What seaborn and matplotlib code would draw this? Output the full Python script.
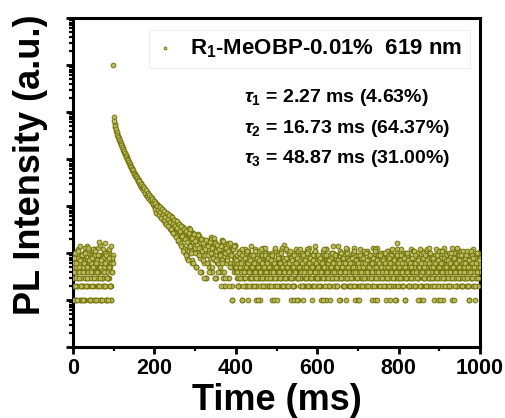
import numpy as np
import pandas as pd
import matplotlib
matplotlib.use("Agg")
import matplotlib.pyplot as plt
import seaborn as sns
from matplotlib.ticker import LogLocator, NullFormatter, MultipleLocator

# ---- data ----
STEP = 2  # ms between samples of each list; the b/c/d lists are offset sub-samples
pre_counts = [3, 7, 1, 9, 4, 2, 12, 5, 1, 8, 3, 6, 2, 10, 4, 1, 7, 14, 3, 5,
              2, 9, 1, 6, 4, 11, 3, 8, 2, 1, 5, 13, 4, 7, 1, 3, 9, 2, 6, 16,
              1, 4, 8, 3, 10, 2, 5, 1, 7]
pre_counts_b = [5, 2, 8, 1, 4, 11, 3, 6, 1, 9, 2, 4, 7, 1, 13, 3, 5, 2, 10, 6,
                1, 4, 8, 3, 2, 12, 5, 1, 7, 4, 3, 9, 2, 15, 1, 6, 3, 10, 4, 2,
                8, 1, 5, 11, 3, 6, 2, 4, 9]
pre_counts_c = [6, 1, 10, 3, 5, 2, 8, 4, 14, 2, 7, 1, 5, 9, 3, 6, 2, 11, 4, 1,
                8, 3, 6, 2, 12, 5, 1, 9, 3, 7, 2, 4, 17, 1, 6, 3, 8, 2, 5, 10,
                1, 4, 7, 3, 12, 2, 6, 1, 8]
pre_counts_d = [4, 8, 2, 6, 1, 11, 5, 3, 7, 2, 9, 4, 1, 6, 10, 2, 5, 3, 13, 7,
                1, 4, 2, 8, 5, 3, 11, 1, 6, 4, 9, 2, 5, 3, 7, 1, 12, 4, 6, 2,
                9, 3, 1, 5, 8, 2, 14, 4, 6]
peak_time = [98]
peak_counts = [100000]
decay_counts = [7700, 5650, 4750, 3950, 3560, 3100, 2850, 2500, 2320, 2040,
                1900, 1680, 1570, 1380, 1300, 1150, 1080, 960, 905, 810,
                765, 680, 650, 580, 555, 495, 478, 425, 415, 370,
                340, 350, 290, 305, 255, 270, 225, 240, 195, 215,
                175, 195, 158, 175, 140, 160, 125, 145, 112, 130,
                98, 120, 85, 108, 72, 95, 80, 62, 90, 70,
                55, 82, 64, 48, 72, 58, 40, 66, 52, 35,
                60, 45, 30, 54, 41, 28, 48, 36, 22, 44,
                33, 19, 40, 27, 15, 36, 25, 12, 31, 21,
                9, 29, 18, 34, 13, 24, 7, 27, 16, 11,
                22, 5, 19, 14, 25, 9, 17, 4, 12, 20,
                7, 15, 10, 3, 18, 13, 6, 16, 9, 22,
                4, 11, 14, 8, 17, 3, 12, 6, 15, 10,
                5, 13, 8, 19, 4, 11, 2, 14, 7, 9,
                16, 3, 12, 6, 10, 1, 13, 5, 8, 15]
decay_counts_b = [6500, 5150, 4300, 3780, 3300, 2980, 2660, 2430, 2160, 1970,
                  1790, 1640, 1460, 1350, 1220, 1120, 1010, 935, 850, 790,
                  715, 670, 605, 570, 515, 490, 445, 425, 385, 360,
                  310, 345, 275, 300, 240, 265, 215, 240, 185, 215,
                  165, 190, 150, 170, 135, 158, 120, 140, 108, 128,
                  105, 78, 112, 88, 66, 100, 75, 58, 84, 68,
                  50, 76, 60, 44, 68, 52, 38, 62, 47, 33,
                  56, 42, 26, 50, 38, 24, 45, 32, 18, 40,
                  30, 16, 37, 24, 13, 33, 21, 10, 29, 19,
                  8, 26, 15, 31, 11, 22, 6, 25, 14, 10,
                  20, 5, 17, 12, 23, 8, 16, 4, 11, 19,
                  6, 14, 9, 3, 17, 12, 5, 15, 8, 20,
                  4, 10, 13, 7, 16, 3, 11, 6, 14, 9,
                  4, 12, 7, 18, 3, 10, 2, 13, 6, 8,
                  15, 3, 11, 5, 9, 2, 12, 4, 7, 14]
decay_counts_c = [88, 115, 70, 102, 82, 64, 96, 73, 56, 86,
                  66, 50, 78, 59, 42, 70, 54, 38, 63, 46,
                  32, 58, 43, 27, 51, 38, 22, 47, 34, 19,
                  42, 29, 14, 37, 23, 11, 33, 20, 9, 30,
                  17, 7, 27, 14, 32, 10, 21, 6, 25, 13,
                  18, 5, 15, 24, 9, 13, 4, 20, 11, 7,
                  16, 3, 12, 19, 6, 14, 9, 4, 17, 10,
                  5, 13, 8, 21, 3, 11, 7, 15, 4, 12,
                  9, 2, 14, 6, 18, 4, 10, 3, 13, 7,
                  11, 2, 16, 5, 9, 1, 12, 6, 14, 8]
tail_counts = [6, 3, 9, 2, 11, 5, 4, 8, 1, 7, 3, 12, 5, 2, 6, 10, 4, 3, 8, 14,
               2, 5, 7, 3, 9, 1, 6, 4, 11, 3, 5, 8, 2, 13, 4, 6, 3, 7, 10, 2,
               4, 8, 3, 5, 1, 9, 6, 2, 12, 4, 7, 3, 5, 10, 2, 6, 8, 3, 4, 15,
               5, 2, 7, 11, 3, 6, 4, 9, 1, 5, 3, 8, 2, 6, 12, 4, 7, 3, 5, 9,
               3, 6, 1, 8, 4, 10, 2, 5, 7, 3, 13, 4, 6, 2, 9, 5, 3, 11, 4, 7,
               2, 8, 5, 3, 6, 1, 9, 4, 7, 2, 5, 12, 3, 6, 4, 8, 2, 10, 5, 3,
               7, 4, 2, 9, 5, 3, 14, 6, 1, 4, 8, 3, 5, 7, 2, 11, 4, 6, 3, 9,
               5, 2, 6, 4, 10, 3, 7, 1, 5, 8, 2, 4, 12, 6, 3, 9, 5, 2, 7, 4,
               3, 11, 5, 2, 8, 4, 6, 1, 7, 3, 9, 5, 2, 13, 4, 6, 8, 3, 5, 10,
               2, 7, 4, 6, 3, 1, 9, 5, 2, 8, 4, 11, 3, 6, 5, 2, 7, 4, 16, 3,
               6, 2, 8, 5, 3, 10, 4, 7, 1, 5, 3, 9, 6, 2, 4, 12, 5, 3, 7, 8,
               4, 2, 6, 9, 3, 5, 1, 7, 4, 11, 2, 6, 3, 8, 5, 4, 2, 10, 6, 3,
               5, 8, 3, 1, 7, 4, 12, 2, 6, 5, 3, 9, 4, 7, 2, 5, 13, 3, 6, 4,
               9, 2, 5, 3, 7, 4, 1, 6, 10, 3, 5, 2, 8, 4, 6, 3, 11, 5, 2, 7,
               4, 6, 3, 8, 2, 5, 9, 1, 4, 7, 3, 12, 5, 2, 6, 4, 8, 3, 10, 5]
tail_counts_b = [4, 7, 2, 5, 10, 3, 6, 1, 8, 4, 3, 9, 5, 2, 7, 11, 3, 6, 4, 2,
                 8, 3, 5, 12, 2, 6, 4, 7, 3, 1, 9, 5, 3, 6, 2, 10, 4, 7, 5, 3,
                 2, 6, 9, 4, 3, 7, 1, 5, 11, 3, 6, 2, 8, 4, 5, 3, 13, 2, 6, 7,
                 3, 5, 2, 8, 4, 10, 6, 3, 7, 2, 5, 1, 9, 4, 6, 3, 11, 5, 2, 8,
                 6, 4, 9, 2, 5, 3, 7, 12, 4, 2, 6, 8, 3, 1, 5, 10, 4, 7, 3, 6,
                 4, 9, 3, 6, 2, 7, 5, 11, 3, 4, 1, 8, 6, 2, 5, 9, 3, 7, 4, 14,
                 2, 5, 8, 3, 6, 4, 1, 10, 5, 3, 7, 2, 9, 4, 6, 3, 12, 5, 2, 7,
                 8, 3, 6, 2, 4, 11, 5, 7, 3, 1, 6, 4, 9, 2, 5, 8, 3, 6, 10, 4,
                 5, 2, 7, 4, 9, 3, 6, 2, 13, 4, 5, 1, 8, 3, 6, 7, 2, 10, 4, 5,
                 3, 8, 4, 6, 2, 5, 11, 3, 7, 1, 4, 9, 5, 2, 6, 3, 8, 4, 12, 2,
                 7, 4, 3, 9, 5, 2, 6, 1, 10, 4, 3, 7, 5, 8, 2, 6, 4, 11, 3, 5,
                 2, 6, 10, 3, 4, 8, 5, 2, 7, 3, 1, 9, 4, 6, 12, 3, 5, 2, 8, 4,
                 6, 3, 5, 2, 9, 4, 7, 3, 1, 6, 11, 4, 2, 5, 8, 3, 6, 4, 10, 2,
                 4, 7, 2, 6, 3, 13, 5, 1, 8, 4, 6, 2, 9, 3, 5, 7, 2, 4, 6, 11,
                 3, 5, 8, 2, 6, 4, 1, 7, 10, 3, 5, 2, 6, 9, 4, 3, 7, 2, 5, 8]
tail_counts_c = [5, 9, 3, 6, 2, 8, 4, 12, 3, 7, 5, 2, 10, 4, 6, 1, 8, 3, 5, 9,
                 3, 6, 4, 11, 2, 7, 5, 3, 8, 4, 2, 6, 9, 3, 5, 13, 4, 2, 7, 5,
                 8, 2, 5, 4, 10, 3, 6, 7, 2, 5, 1, 9, 4, 6, 3, 11, 5, 2, 8, 4,
                 6, 3, 12, 5, 2, 7, 4, 8, 3, 6, 10, 2, 5, 4, 9, 3, 1, 7, 5, 3,
                 4, 10, 2, 6, 5, 3, 8, 4, 11, 2, 7, 3, 6, 5, 2, 9, 4, 14, 3, 6,
                 7, 3, 5, 2, 8, 6, 4, 1, 9, 3, 5, 12, 4, 7, 2, 6, 3, 8, 5, 10,
                 3, 6, 9, 4, 2, 5, 7, 3, 11, 4, 6, 2, 8, 5, 3, 1, 10, 4, 6, 2,
                 5, 8, 3, 6, 4, 13, 2, 7, 5, 3, 9, 4, 2, 6, 8, 3, 5, 11, 4, 7,
                 2, 5, 10, 3, 7, 4, 6, 2, 8, 5, 3, 12, 4, 1, 6, 9, 3, 5, 7, 4,
                 8, 3, 5, 2, 6, 11, 4, 7, 3, 5, 2, 9, 6, 4, 3, 8, 1, 5, 10, 6,
                 3, 7, 4, 12, 2, 5, 8, 3, 6, 4, 9, 2, 5, 7, 3, 6, 4, 11, 2, 5,
                 9, 4, 6, 3, 1, 8, 5, 2, 7, 4, 10, 3, 6, 5, 2, 8, 4, 13, 3, 6,
                 4, 2, 7, 5, 9, 3, 6, 4, 2, 11, 5, 3, 8, 6, 1, 4, 7, 3, 9, 5,
                 6, 3, 10, 4, 2, 7, 5, 8, 3, 6, 4, 12, 2, 5, 9, 3, 6, 4, 7, 2,
                 5, 8, 3, 6, 11, 4, 2, 7, 5, 3, 9, 4, 6, 1, 8, 3, 5, 10, 4, 6]
tail_counts_d = [7, 4, 2, 10, 5, 3, 6, 9, 2, 4, 8, 3, 5, 11, 6, 2, 4, 7, 3, 5,
                 9, 2, 6, 4, 3, 8, 5, 1, 7, 4, 12, 3, 6, 2, 5, 9, 4, 6, 3, 8,
                 5, 3, 7, 2, 9, 4, 6, 3, 13, 5, 2, 8, 4, 6, 3, 10, 5, 2, 7, 4,
                 3, 8, 5, 2, 6, 4, 11, 3, 7, 5, 2, 9, 4, 6, 1, 8, 3, 5, 12, 4,
                 6, 2, 9, 4, 7, 3, 5, 10, 2, 6, 4, 8, 3, 5, 7, 2, 11, 4, 6, 3,
                 5, 7, 2, 8, 4, 6, 3, 12, 5, 2, 9, 4, 6, 3, 7, 1, 5, 10, 3, 6,
                 4, 9, 3, 5, 2, 7, 6, 4, 10, 3, 5, 8, 2, 6, 4, 13, 3, 5, 7, 2,
                 6, 3, 8, 5, 11, 2, 4, 7, 3, 6, 5, 1, 9, 4, 2, 8, 5, 3, 6, 10,
                 4, 7, 2, 5, 9, 3, 6, 4, 8, 2, 11, 5, 3, 7, 4, 6, 2, 9, 5, 3,
                 7, 2, 6, 10, 4, 3, 5, 8, 2, 6, 4, 12, 3, 5, 7, 1, 4, 9, 3, 6,
                 5, 3, 9, 4, 6, 2, 8, 5, 3, 10, 4, 7, 2, 6, 5, 3, 8, 4, 11, 2,
                 6, 4, 3, 7, 5, 12, 2, 6, 4, 8, 3, 5, 9, 2, 7, 4, 6, 3, 10, 5,
                 3, 8, 5, 2, 6, 4, 9, 3, 7, 5, 1, 6, 11, 4, 3, 8, 2, 5, 7, 4,
                 7, 2, 6, 4, 10, 3, 5, 8, 4, 2, 6, 13, 3, 5, 7, 4, 9, 2, 6, 3,
                 4, 6, 9, 3, 5, 2, 7, 4, 11, 6, 3, 8, 5, 2, 6, 4, 10, 3, 7, 5]
pre_start, decay_start, decay_c_start, tail_start = 0, 100, 200, 400
legend_label = r"R$_{1}$-MeOBP-0.01%  619 nm"
tau_lines = [r"$\tau_{1}$ = 2.27 ms (4.63%)",
             r"$\tau_{2}$ = 16.73 ms (64.37%)",
             r"$\tau_{3}$ = 48.87 ms (31.00%)"]
x_label = "Time (ms)"
y_label = "PL Intensity (a.u.)"


def seg(start, vals):
    return start + STEP * np.arange(len(vals)), np.asarray(vals, dtype=float)


parts = [seg(pre_start, pre_counts), seg(pre_start + 1, pre_counts_b),
         seg(pre_start + 0.5, pre_counts_c), seg(pre_start + 1.5, pre_counts_d),
         (np.array(peak_time, dtype=float), np.array(peak_counts, dtype=float)),
         seg(decay_start, decay_counts), seg(decay_start + 1, decay_counts_b),
         seg(decay_c_start + 0.5, decay_counts_c),
         seg(tail_start, tail_counts), seg(tail_start + 1, tail_counts_b),
         seg(tail_start + 0.5, tail_counts_c), seg(tail_start + 1.5, tail_counts_d)]
df = pd.DataFrame({"t": np.concatenate([p[0] for p in parts]),
                   "c": np.concatenate([p[1] for p in parts])})

# ---- style ----
sns.set_style("ticks")
plt.rcParams["font.family"] = ["Liberation Sans", "DejaVu Sans"]
plt.rcParams["font.weight"] = "bold"
plt.rcParams["text.color"] = "black"
plt.rcParams["axes.labelcolor"] = "black"
plt.rcParams["xtick.color"] = "black"
plt.rcParams["ytick.color"] = "black"
plt.rcParams["mathtext.fontset"] = "custom"
plt.rcParams["mathtext.rm"] = "Liberation Sans:bold"
plt.rcParams["mathtext.it"] = "Liberation Sans:italic:bold"
plt.rcParams["mathtext.bf"] = "Liberation Sans:bold"

fig = plt.figure(figsize=(5.05, 4.18), dpi=100)
ax = fig.add_axes([0.1446, 0.1699, 0.8059, 0.787])

olive_edge = "#6e6e00"
olive_face = "#b8b862"
sns.scatterplot(data=df, x="t", y="c", ax=ax, s=12, marker="o",
                facecolor=olive_face, edgecolor=olive_edge, linewidth=0.6,
                label=legend_label, zorder=3)

ax.set_yscale("log")
ax.set_ylim(0.1, 1e6)
ax.set_xlim(0, 1000)
ax.xaxis.set_major_locator(MultipleLocator(200))
ax.xaxis.set_minor_locator(MultipleLocator(100))
ax.yaxis.set_major_locator(LogLocator(base=10, numticks=20))
ax.yaxis.set_minor_locator(LogLocator(base=10, subs=np.arange(2, 10), numticks=20))
ax.yaxis.set_major_formatter(NullFormatter())
ax.yaxis.set_minor_formatter(NullFormatter())

for sp in ax.spines.values():
    sp.set_linewidth(2.2)
    sp.set_color("black")
ax.tick_params(axis="both", which="major", direction="out", length=5, width=2,
               labelsize=15.5, pad=3, top=False, right=False, colors="black")
ax.tick_params(axis="both", which="minor", direction="out", length=3, width=1.6,
               top=False, right=False, colors="black")
for lab in ax.get_xticklabels():
    lab.set_fontweight("bold")

ax.set_xlabel(x_label, fontsize=26, fontweight="bold", labelpad=3, color="black")
ax.set_ylabel(y_label, fontsize=26, fontweight="bold", color="black")
ax.yaxis.set_label_coords(-0.062, 0.553)

leg = ax.legend(loc="upper right", bbox_to_anchor=(0.975, 0.965), borderaxespad=0,
                frameon=True, fancybox=False, edgecolor="#ececec",
                prop={"size": 16, "weight": "bold"}, markerscale=0.6,
                handlelength=0.8, handletextpad=0.7, borderpad=0.35)
leg.get_frame().set_linewidth(0.8)
for txt in leg.get_texts():
    txt.set_color("black")

for i, line in enumerate(tau_lines):
    ax.text(0.42, 0.757 - i * 0.092, line, transform=ax.transAxes,
            fontsize=14, fontweight="bold", va="center", ha="left", color="black")

fig.savefig("out.png", dpi=100)
